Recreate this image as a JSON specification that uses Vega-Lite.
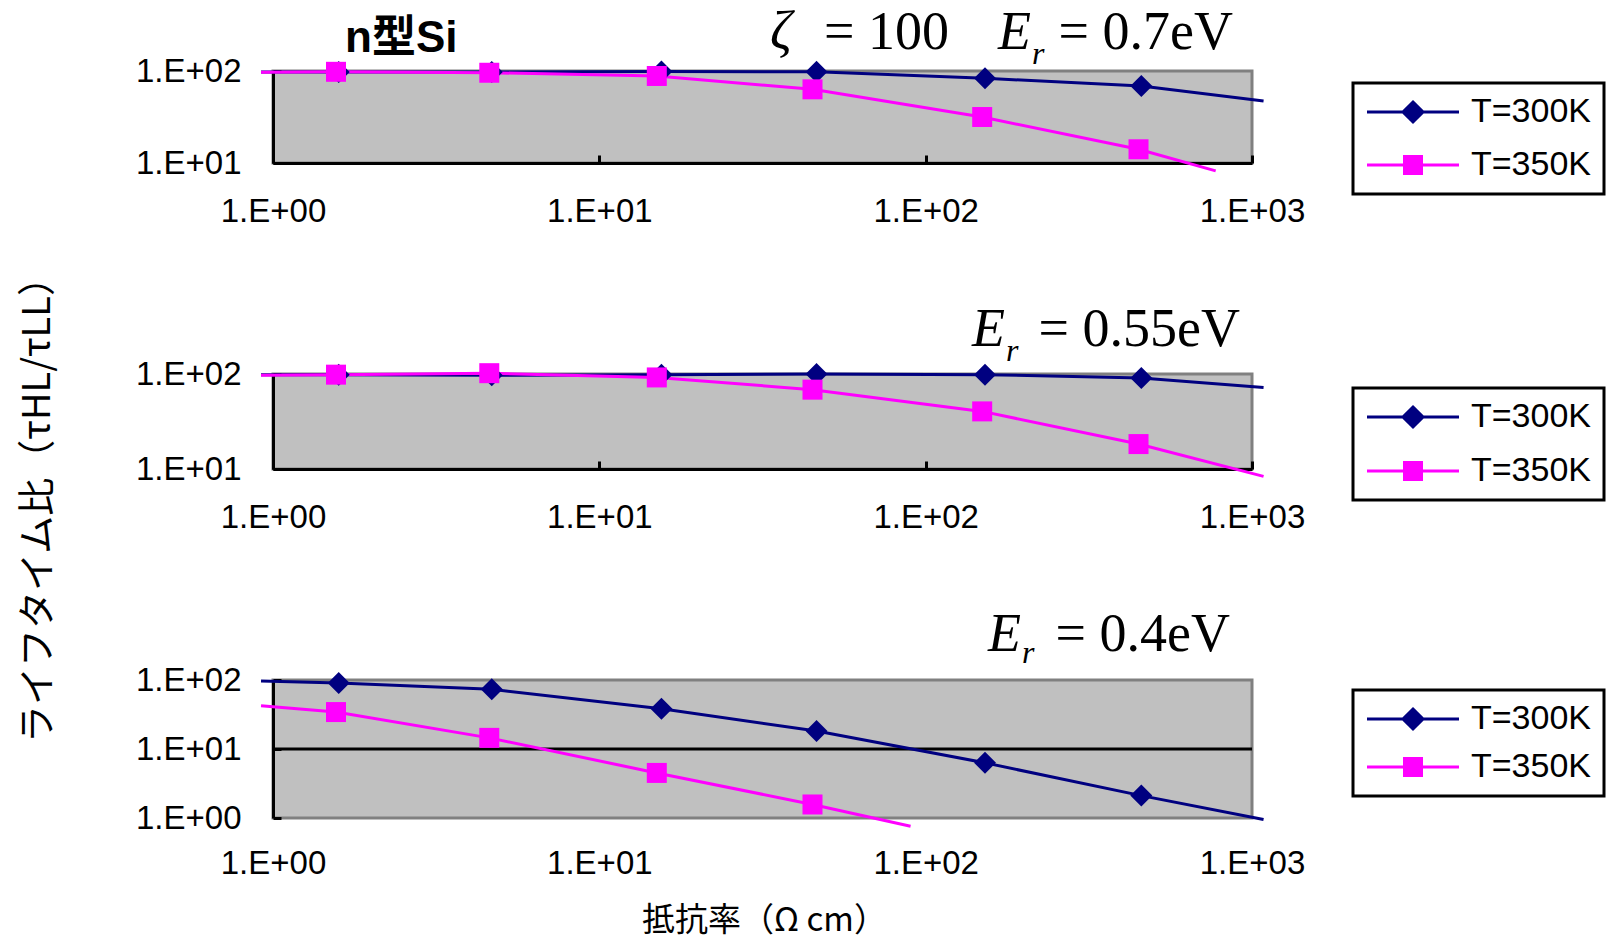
{
  "$schema": "https://vega.github.io/schema/vega-lite/v6.json",
  "background": "white",
  "padding": {"left": 17, "top": 4, "right": 5, "bottom": 12},
  "config": {
    "view": {"fill": "#C0C0C0", "stroke": "#808080", "strokeWidth": 3},
    "axis": {
      "grid": false, "domainColor": "black", "domainWidth": 3,
      "tickColor": "black", "tickWidth": 3, "tickSize": -8,
      "labelFont": "Liberation Sans", "labelFontSize": 33, "labelColor": "black",
      "labelOverlap": false, "labelBound": false, "labelFlush": false,
      "titleFont": "Noto Sans CJK JP", "titleColor": "black", "titleFontWeight": "normal"
    },
    "legend": {
      "title": null, "orient": "none", "direction": "vertical",
      "fillColor": "white", "strokeColor": "black", "padding": 12,
      "labelFont": "Liberation Sans", "labelFontSize": 34, "labelColor": "black",
      "symbolSize": 400, "symbolOffset": 31, "labelOffset": 41
    }
  },
  "datasets": {
    "curves": [
      {"panel": "0.7", "series": "T=300K", "rho": 0.919, "ratio": 97.5},
      {"panel": "0.7", "series": "T=300K", "rho": 1.59, "ratio": 97.5},
      {"panel": "0.7", "series": "T=300K", "rho": 4.68, "ratio": 97.5},
      {"panel": "0.7", "series": "T=300K", "rho": 15.5, "ratio": 98.5},
      {"panel": "0.7", "series": "T=300K", "rho": 46.3, "ratio": 98.3},
      {"panel": "0.7", "series": "T=300K", "rho": 152, "ratio": 83.4},
      {"panel": "0.7", "series": "T=300K", "rho": 458, "ratio": 68.7},
      {"panel": "0.7", "series": "T=300K", "rho": 1085, "ratio": 47.2},
      {"panel": "0.7", "series": "T=350K", "rho": 0.919, "ratio": 97},
      {"panel": "0.7", "series": "T=350K", "rho": 1.56, "ratio": 98},
      {"panel": "0.7", "series": "T=350K", "rho": 4.6, "ratio": 95.7},
      {"panel": "0.7", "series": "T=350K", "rho": 15.0, "ratio": 88.3},
      {"panel": "0.7", "series": "T=350K", "rho": 45.0, "ratio": 63.2},
      {"panel": "0.7", "series": "T=350K", "rho": 149, "ratio": 31.6},
      {"panel": "0.7", "series": "T=350K", "rho": 449, "ratio": 14.1},
      {"panel": "0.7", "series": "T=350K", "rho": 774, "ratio": 8.2},
      {"panel": "0.55", "series": "T=300K", "rho": 0.919, "ratio": 98},
      {"panel": "0.55", "series": "T=300K", "rho": 1.59, "ratio": 98.4},
      {"panel": "0.55", "series": "T=300K", "rho": 4.68, "ratio": 97},
      {"panel": "0.55", "series": "T=300K", "rho": 15.5, "ratio": 98},
      {"panel": "0.55", "series": "T=300K", "rho": 46.3, "ratio": 100},
      {"panel": "0.55", "series": "T=300K", "rho": 152, "ratio": 98.4},
      {"panel": "0.55", "series": "T=300K", "rho": 458, "ratio": 90.8},
      {"panel": "0.55", "series": "T=300K", "rho": 1085, "ratio": 72.3},
      {"panel": "0.55", "series": "T=350K", "rho": 0.919, "ratio": 97},
      {"panel": "0.55", "series": "T=350K", "rho": 1.56, "ratio": 98.4},
      {"panel": "0.55", "series": "T=350K", "rho": 4.6, "ratio": 102},
      {"panel": "0.55", "series": "T=350K", "rho": 15.0, "ratio": 92},
      {"panel": "0.55", "series": "T=350K", "rho": 45.0, "ratio": 68.4},
      {"panel": "0.55", "series": "T=350K", "rho": 149, "ratio": 40.4},
      {"panel": "0.55", "series": "T=350K", "rho": 449, "ratio": 18.3},
      {"panel": "0.55", "series": "T=350K", "rho": 1085, "ratio": 8.36},
      {"panel": "0.4", "series": "T=300K", "rho": 0.919, "ratio": 96.7},
      {"panel": "0.4", "series": "T=300K", "rho": 1.59, "ratio": 90.4},
      {"panel": "0.4", "series": "T=300K", "rho": 4.68, "ratio": 73.3},
      {"panel": "0.4", "series": "T=300K", "rho": 15.5, "ratio": 38.3},
      {"panel": "0.4", "series": "T=300K", "rho": 46.3, "ratio": 18.2},
      {"panel": "0.4", "series": "T=300K", "rho": 152, "ratio": 6.3},
      {"panel": "0.4", "series": "T=300K", "rho": 458, "ratio": 2.11},
      {"panel": "0.4", "series": "T=300K", "rho": 1085, "ratio": 0.95},
      {"panel": "0.4", "series": "T=350K", "rho": 0.919, "ratio": 42.4},
      {"panel": "0.4", "series": "T=350K", "rho": 1.56, "ratio": 34.3},
      {"panel": "0.4", "series": "T=350K", "rho": 4.6, "ratio": 14.5},
      {"panel": "0.4", "series": "T=350K", "rho": 15.0, "ratio": 4.5},
      {"panel": "0.4", "series": "T=350K", "rho": 45.0, "ratio": 1.57},
      {"panel": "0.4", "series": "T=350K", "rho": 89.9, "ratio": 0.76}
    ],
    "markers": [
      {"panel": "0.7", "series": "T=300K", "rho": 1.59, "ratio": 97.5},
      {"panel": "0.7", "series": "T=300K", "rho": 4.68, "ratio": 97.5},
      {"panel": "0.7", "series": "T=300K", "rho": 15.5, "ratio": 98.5},
      {"panel": "0.7", "series": "T=300K", "rho": 46.3, "ratio": 98.3},
      {"panel": "0.7", "series": "T=300K", "rho": 152, "ratio": 83.4},
      {"panel": "0.7", "series": "T=300K", "rho": 458, "ratio": 68.7},
      {"panel": "0.7", "series": "T=350K", "rho": 1.56, "ratio": 98},
      {"panel": "0.7", "series": "T=350K", "rho": 4.6, "ratio": 95.7},
      {"panel": "0.7", "series": "T=350K", "rho": 15.0, "ratio": 88.3},
      {"panel": "0.7", "series": "T=350K", "rho": 45.0, "ratio": 63.2},
      {"panel": "0.7", "series": "T=350K", "rho": 149, "ratio": 31.6},
      {"panel": "0.7", "series": "T=350K", "rho": 449, "ratio": 14.1},
      {"panel": "0.55", "series": "T=300K", "rho": 1.59, "ratio": 98.4},
      {"panel": "0.55", "series": "T=300K", "rho": 4.68, "ratio": 97},
      {"panel": "0.55", "series": "T=300K", "rho": 15.5, "ratio": 98},
      {"panel": "0.55", "series": "T=300K", "rho": 46.3, "ratio": 100},
      {"panel": "0.55", "series": "T=300K", "rho": 152, "ratio": 98.4},
      {"panel": "0.55", "series": "T=300K", "rho": 458, "ratio": 90.8},
      {"panel": "0.55", "series": "T=350K", "rho": 1.56, "ratio": 98.4},
      {"panel": "0.55", "series": "T=350K", "rho": 4.6, "ratio": 102},
      {"panel": "0.55", "series": "T=350K", "rho": 15.0, "ratio": 92},
      {"panel": "0.55", "series": "T=350K", "rho": 45.0, "ratio": 68.4},
      {"panel": "0.55", "series": "T=350K", "rho": 149, "ratio": 40.4},
      {"panel": "0.55", "series": "T=350K", "rho": 449, "ratio": 18.3},
      {"panel": "0.4", "series": "T=300K", "rho": 1.59, "ratio": 90.4},
      {"panel": "0.4", "series": "T=300K", "rho": 4.68, "ratio": 73.3},
      {"panel": "0.4", "series": "T=300K", "rho": 15.5, "ratio": 38.3},
      {"panel": "0.4", "series": "T=300K", "rho": 46.3, "ratio": 18.2},
      {"panel": "0.4", "series": "T=300K", "rho": 152, "ratio": 6.3},
      {"panel": "0.4", "series": "T=300K", "rho": 458, "ratio": 2.11},
      {"panel": "0.4", "series": "T=350K", "rho": 1.56, "ratio": 34.3},
      {"panel": "0.4", "series": "T=350K", "rho": 4.6, "ratio": 14.5},
      {"panel": "0.4", "series": "T=350K", "rho": 15.0, "ratio": 4.5},
      {"panel": "0.4", "series": "T=350K", "rho": 45.0, "ratio": 1.57}
    ]
  },
  "bounds": "flush",
  "spacing": 211,
  "resolve": {
    "scale": {"x": "independent", "y": "independent", "color": "independent"},
    "legend": {"color": "independent"}
  },
  "vconcat": [
    {
      "width": 979, "height": 92,
      "layer": [
        {
          "data": {"name": "curves"},
          "transform": [{"filter": "datum.panel === '0.7'"}],
          "mark": {"type": "line", "strokeWidth": 3},
          "encoding": {
            "x": {"field": "rho", "type": "quantitative", "scale": {"type": "log", "domain": [1, 1000], "nice": false},
                  "axis": {"values": [1, 10, 100, 1000], "labelExpr": "'1.E+0' + round(log(datum.value)/LN10)", "title": null, "labelPadding": 40}},
            "y": {"field": "ratio", "type": "quantitative", "scale": {"type": "log", "domain": [10, 100], "nice": false},
                  "axis": {"values": [10, 100], "labelExpr": "'1.E+0' + round(log(datum.value)/LN10)", "title": null, "labelPadding": 40}},
            "color": {"field": "series", "type": "nominal",
              "scale": {"domain": ["T=300K", "T=350K"], "range": ["#000080", "#FF00FF"]},
              "legend": {"legendX": 1080, "legendY": 12, "rowPadding": 19,
                "encode": {
                  "symbols": {"update": {
                    "shape": {"signal": "datum.value === 'T=300K' ? 'M-4.6,0L4.6,0M0,-1L1,0L0,1L-1,0Z' : 'M-4.6,0L4.6,0M-0.85,-0.85L0.85,-0.85L0.85,0.85L-0.85,0.85Z'"},
                    "fill": {"signal": "datum.value === 'T=300K' ? '#000080' : '#FF00FF'"},
                    "stroke": {"signal": "datum.value === 'T=300K' ? '#000080' : '#FF00FF'"},
                    "strokeWidth": {"value": 3}, "opacity": {"value": 1}, "fillOpacity": {"value": 1}, "strokeOpacity": {"value": 1}}},
                  "legend": {"update": {"strokeWidth": {"value": 3}}}
                }}}
          }
        },
        {
          "data": {"name": "markers"},
          "transform": [{"filter": "datum.panel === '0.7' && datum.series === 'T=300K'"}],
          "mark": {"type": "point", "filled": true, "opacity": 1, "size": 400, "color": "#000080", "shape": "M0,-1.1L1.1,0L0,1.1L-1.1,0Z"},
          "encoding": {"x": {"field": "rho", "type": "quantitative"}, "y": {"field": "ratio", "type": "quantitative"}}
        },
        {
          "data": {"name": "markers"},
          "transform": [{"filter": "datum.panel === '0.7' && datum.series === 'T=350K'"}],
          "mark": {"type": "point", "filled": true, "opacity": 1, "size": 400, "color": "#FF00FF", "shape": "M-1,-1L1,-1L1,1L-1,1Z"},
          "encoding": {"x": {"field": "rho", "type": "quantitative"}, "y": {"field": "ratio", "type": "quantitative"}}
        },
        {
          "data": {"values": [{}]},
          "mark": {"type": "text", "font": "Liberation Sans, Noto Sans CJK JP", "fontWeight": "bold", "fontSize": 44, "align": "left", "baseline": "alphabetic", "dx": 72, "dy": -19, "color": "black"},
          "encoding": {"x": {"datum": 1, "type": "quantitative"}, "y": {"datum": 100, "type": "quantitative"}, "text": {"value": "n型Si"}}
        },
        {
          "data": {"values": [{}]},
          "mark": {"type": "text", "font": "Liberation Serif", "fontStyle": "italic", "fontSize": 54, "align": "left", "baseline": "alphabetic", "dx": -482, "dy": -22, "color": "black"},
          "encoding": {"x": {"datum": 1000, "type": "quantitative"}, "y": {"datum": 100, "type": "quantitative"}, "text": {"value": "ζ"}}
        },
        {
          "data": {"values": [{}]},
          "mark": {"type": "text", "font": "Liberation Serif", "fontSize": 54, "align": "right", "baseline": "alphabetic", "dx": -303, "dy": -22, "color": "black"},
          "encoding": {"x": {"datum": 1000, "type": "quantitative"}, "y": {"datum": 100, "type": "quantitative"}, "text": {"value": "= 100"}}
        },
        {
          "data": {"values": [{}]},
          "mark": {"type": "text", "font": "Liberation Serif", "fontStyle": "italic", "fontSize": 54, "align": "left", "baseline": "alphabetic", "dx": -254, "dy": -22, "color": "black"},
          "encoding": {"x": {"datum": 1000, "type": "quantitative"}, "y": {"datum": 100, "type": "quantitative"}, "text": {"value": "E"}}
        },
        {
          "data": {"values": [{}]},
          "mark": {"type": "text", "font": "Liberation Serif", "fontStyle": "italic", "fontSize": 32, "align": "left", "baseline": "alphabetic", "dx": -220, "dy": -7, "color": "black"},
          "encoding": {"x": {"datum": 1000, "type": "quantitative"}, "y": {"datum": 100, "type": "quantitative"}, "text": {"value": "r"}}
        },
        {
          "data": {"values": [{}]},
          "mark": {"type": "text", "font": "Liberation Serif", "fontSize": 54, "align": "right", "baseline": "alphabetic", "dx": -19, "dy": -22, "color": "black"},
          "encoding": {"x": {"datum": 1000, "type": "quantitative"}, "y": {"datum": 100, "type": "quantitative"}, "text": {"value": "= 0.7eV"}}
        }
      ]
    },
    {
      "width": 979, "height": 95,
      "layer": [
        {
          "data": {"name": "curves"},
          "transform": [{"filter": "datum.panel === '0.55'"}],
          "mark": {"type": "line", "strokeWidth": 3},
          "encoding": {
            "x": {"field": "rho", "type": "quantitative", "scale": {"type": "log", "domain": [1, 1000], "nice": false},
                  "axis": {"values": [1, 10, 100, 1000], "labelExpr": "'1.E+0' + round(log(datum.value)/LN10)", "title": null, "labelPadding": 40}},
            "y": {"field": "ratio", "type": "quantitative", "scale": {"type": "log", "domain": [10, 100], "nice": false},
                  "axis": {"values": [10, 100], "labelExpr": "'1.E+0' + round(log(datum.value)/LN10)", "labelPadding": 40,
                    "title": "ライフタイム比（τHL/τLL）", "titleX": -235, "titleY": 126, "titleAngle": 270,
                    "titleAlign": "center", "titleBaseline": "middle", "titleFontSize": 38}},
            "color": {"field": "series", "type": "nominal",
              "scale": {"domain": ["T=300K", "T=350K"], "range": ["#000080", "#FF00FF"]},
              "legend": {"legendX": 1080, "legendY": 14, "rowPadding": 20,
                "encode": {
                  "symbols": {"update": {
                    "shape": {"signal": "datum.value === 'T=300K' ? 'M-4.6,0L4.6,0M0,-1L1,0L0,1L-1,0Z' : 'M-4.6,0L4.6,0M-0.85,-0.85L0.85,-0.85L0.85,0.85L-0.85,0.85Z'"},
                    "fill": {"signal": "datum.value === 'T=300K' ? '#000080' : '#FF00FF'"},
                    "stroke": {"signal": "datum.value === 'T=300K' ? '#000080' : '#FF00FF'"},
                    "strokeWidth": {"value": 3}, "opacity": {"value": 1}, "fillOpacity": {"value": 1}, "strokeOpacity": {"value": 1}}},
                  "legend": {"update": {"strokeWidth": {"value": 3}}}
                }}}
          }
        },
        {
          "data": {"name": "markers"},
          "transform": [{"filter": "datum.panel === '0.55' && datum.series === 'T=300K'"}],
          "mark": {"type": "point", "filled": true, "opacity": 1, "size": 400, "color": "#000080", "shape": "M0,-1.1L1.1,0L0,1.1L-1.1,0Z"},
          "encoding": {"x": {"field": "rho", "type": "quantitative"}, "y": {"field": "ratio", "type": "quantitative"}}
        },
        {
          "data": {"name": "markers"},
          "transform": [{"filter": "datum.panel === '0.55' && datum.series === 'T=350K'"}],
          "mark": {"type": "point", "filled": true, "opacity": 1, "size": 400, "color": "#FF00FF", "shape": "M-1,-1L1,-1L1,1L-1,1Z"},
          "encoding": {"x": {"field": "rho", "type": "quantitative"}, "y": {"field": "ratio", "type": "quantitative"}}
        },
        {
          "data": {"values": [{}]},
          "mark": {"type": "text", "font": "Liberation Serif", "fontStyle": "italic", "fontSize": 54, "align": "left", "baseline": "alphabetic", "dx": -280, "dy": -28, "color": "black"},
          "encoding": {"x": {"datum": 1000, "type": "quantitative"}, "y": {"datum": 100, "type": "quantitative"}, "text": {"value": "E"}}
        },
        {
          "data": {"values": [{}]},
          "mark": {"type": "text", "font": "Liberation Serif", "fontStyle": "italic", "fontSize": 32, "align": "left", "baseline": "alphabetic", "dx": -246, "dy": -13, "color": "black"},
          "encoding": {"x": {"datum": 1000, "type": "quantitative"}, "y": {"datum": 100, "type": "quantitative"}, "text": {"value": "r"}}
        },
        {
          "data": {"values": [{}]},
          "mark": {"type": "text", "font": "Liberation Serif", "fontSize": 54, "align": "right", "baseline": "alphabetic", "dx": -12, "dy": -28, "color": "black"},
          "encoding": {"x": {"datum": 1000, "type": "quantitative"}, "y": {"datum": 100, "type": "quantitative"}, "text": {"value": "= 0.55eV"}}
        }
      ]
    },
    {
      "width": 979, "height": 138,
      "layer": [
        {
          "data": {"values": [{}]},
          "mark": {"type": "rule", "color": "black", "strokeWidth": 3},
          "encoding": {"y": {"datum": 10, "type": "quantitative"}}
        },
        {
          "data": {"name": "curves"},
          "transform": [{"filter": "datum.panel === '0.4'"}],
          "mark": {"type": "line", "strokeWidth": 3},
          "encoding": {
            "x": {"field": "rho", "type": "quantitative", "scale": {"type": "log", "domain": [1, 1000], "nice": false},
                  "axis": {"values": [1, 10, 100, 1000], "labelExpr": "'1.E+0' + round(log(datum.value)/LN10)", "domain": false, "ticks": false, "labelPadding": 29,
                    "title": "抵抗率（Ω cm）", "titleX": 491, "titleY": 102, "titleAngle": 0, "titleAlign": "center", "titleBaseline": "middle", "titleFontSize": 33}},
            "y": {"field": "ratio", "type": "quantitative", "scale": {"type": "log", "domain": [1, 100], "nice": false},
                  "axis": {"values": [1, 10, 100], "labelExpr": "'1.E+0' + round(log(datum.value)/LN10)", "title": null, "labelPadding": 40}},
            "color": {"field": "series", "type": "nominal",
              "scale": {"domain": ["T=300K", "T=350K"], "range": ["#000080", "#FF00FF"]},
              "legend": {"legendX": 1080, "legendY": 10, "rowPadding": 14,
                "encode": {
                  "symbols": {"update": {
                    "shape": {"signal": "datum.value === 'T=300K' ? 'M-4.6,0L4.6,0M0,-1L1,0L0,1L-1,0Z' : 'M-4.6,0L4.6,0M-0.85,-0.85L0.85,-0.85L0.85,0.85L-0.85,0.85Z'"},
                    "fill": {"signal": "datum.value === 'T=300K' ? '#000080' : '#FF00FF'"},
                    "stroke": {"signal": "datum.value === 'T=300K' ? '#000080' : '#FF00FF'"},
                    "strokeWidth": {"value": 3}, "opacity": {"value": 1}, "fillOpacity": {"value": 1}, "strokeOpacity": {"value": 1}}},
                  "legend": {"update": {"strokeWidth": {"value": 3}}}
                }}}
          }
        },
        {
          "data": {"name": "markers"},
          "transform": [{"filter": "datum.panel === '0.4' && datum.series === 'T=300K'"}],
          "mark": {"type": "point", "filled": true, "opacity": 1, "size": 400, "color": "#000080", "shape": "M0,-1.1L1.1,0L0,1.1L-1.1,0Z"},
          "encoding": {"x": {"field": "rho", "type": "quantitative"}, "y": {"field": "ratio", "type": "quantitative"}}
        },
        {
          "data": {"name": "markers"},
          "transform": [{"filter": "datum.panel === '0.4' && datum.series === 'T=350K'"}],
          "mark": {"type": "point", "filled": true, "opacity": 1, "size": 400, "color": "#FF00FF", "shape": "M-1,-1L1,-1L1,1L-1,1Z"},
          "encoding": {"x": {"field": "rho", "type": "quantitative"}, "y": {"field": "ratio", "type": "quantitative"}}
        },
        {
          "data": {"values": [{}]},
          "mark": {"type": "text", "font": "Liberation Serif", "fontStyle": "italic", "fontSize": 54, "align": "left", "baseline": "alphabetic", "dx": -264, "dy": -29, "color": "black"},
          "encoding": {"x": {"datum": 1000, "type": "quantitative"}, "y": {"datum": 100, "type": "quantitative"}, "text": {"value": "E"}}
        },
        {
          "data": {"values": [{}]},
          "mark": {"type": "text", "font": "Liberation Serif", "fontStyle": "italic", "fontSize": 32, "align": "left", "baseline": "alphabetic", "dx": -230, "dy": -17, "color": "black"},
          "encoding": {"x": {"datum": 1000, "type": "quantitative"}, "y": {"datum": 100, "type": "quantitative"}, "text": {"value": "r"}}
        },
        {
          "data": {"values": [{}]},
          "mark": {"type": "text", "font": "Liberation Serif", "fontSize": 54, "align": "right", "baseline": "alphabetic", "dx": -22, "dy": -29, "color": "black"},
          "encoding": {"x": {"datum": 1000, "type": "quantitative"}, "y": {"datum": 100, "type": "quantitative"}, "text": {"value": "= 0.4eV"}}
        }
      ]
    }
  ]
}
